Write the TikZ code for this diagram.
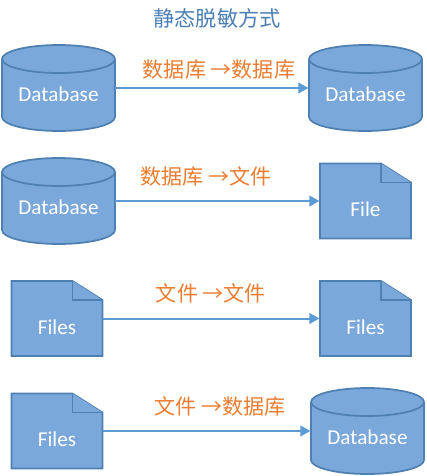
\documentclass[tikz,border=0pt]{standalone}
\usepackage{fontspec}
\setmainfont{Carlito}
\newfontfamily\cjk{Noto Sans CJK SC}
\usetikzlibrary{arrows.meta}
\definecolor{shapefill}{HTML}{7BA8DA}
\definecolor{shapeline}{HTML}{4E80B2}
\definecolor{connblue}{HTML}{5B9BD5}
\definecolor{labelorange}{HTML}{ED7D31}
\definecolor{titleblue}{HTML}{4A7FB5}
\tikzset{
  shapebody/.style={fill=shapefill,draw=shapeline,line width=1.3pt,line join=miter},
  shapetext/.style={text=white,font=\fontsize{15.9}{18}\selectfont,inner sep=0pt},
  conn/.style={draw=connblue,line width=1.5pt,-{Triangle[length=7.5pt,width=8pt]},shorten >=0.5pt},
  orangelabel/.style={text=labelorange,font=\cjk\fontsize{15.8}{18}\selectfont,inner sep=0pt},
  titlelabel/.style={text=titleblue,font=\cjk\fontsize{15.9}{18}\selectfont,inner sep=0pt},
}
% #1 name, #2 left x, #3 top y, #4 text
\newcommand{\dbshape}[4]{%
  \path[shapebody] (#2,#3+14) -- (#2,#3+72)
    arc[start angle=180,end angle=0,x radius=56.5,y radius=14] -- (#2+113,#3+14);
  \path[shapebody] (#2+56.5,#3+14) ellipse[x radius=56.5,y radius=14];
  \node[minimum width=84.75pt,minimum height=64.5pt,inner sep=0pt,outer sep=0pt] (#1) at (#2+56.5,#3+43) {};
  \node[shapetext] (#1t) at (#2+56.5,#3+49.5) {#4};
}
\newcommand{\fileshape}[4]{%
  \path[shapebody] (#2,#3) -- (#2+61,#3) -- (#2+91,#3+19) -- (#2+91,#3+75) -- (#2,#3+75) -- cycle;
  \path[shapebody] (#2+61,#3) -- (#2+61,#3+19) -- (#2+91,#3+19);
  \node[minimum width=68.25pt,minimum height=56.25pt,inner sep=0pt,outer sep=0pt] (#1) at (#2+45.5,#3+37.5) {};
  \node[shapetext] (#1t) at (#2+45.5,#3+46) {#4};
}
\begin{document}
\begin{tikzpicture}[x=0.75pt,y=-0.75pt]
\useasboundingbox[fill=white] (0,0) rectangle (426,476);
\node[titlelabel] (title) at (217,18.5) {静态脱敏方式};

\dbshape{a1}{2}{45}{Database}
\dbshape{b1}{309}{45}{Database}
\draw[conn] (a1.east) -- (b1.west);
\node[orangelabel] (l1) at (219,69.5) {数据库 →数据库};

\dbshape{a2}{2}{158}{Database}
\fileshape{b2}{320}{163.5}{File}
\draw[conn] (a2.east) -- (b2.west);
\node[orangelabel] (l2) at (206,176.5) {数据库 →文件};

\fileshape{a3}{11.5}{281}{Files}
\fileshape{b3}{320}{281}{Files}
\draw[conn] (a3.east) -- (b3.west);
\node[orangelabel] (l3) at (211,293.5) {文件 →文件};

\fileshape{a4}{11.5}{393.5}{Files}
\dbshape{b4}{311}{388}{Database}
\draw[conn] (a4.east) -- (b4.west);
\node[orangelabel] (l4) at (220,406.5) {文件 →数据库};
\end{tikzpicture}
\end{document}
